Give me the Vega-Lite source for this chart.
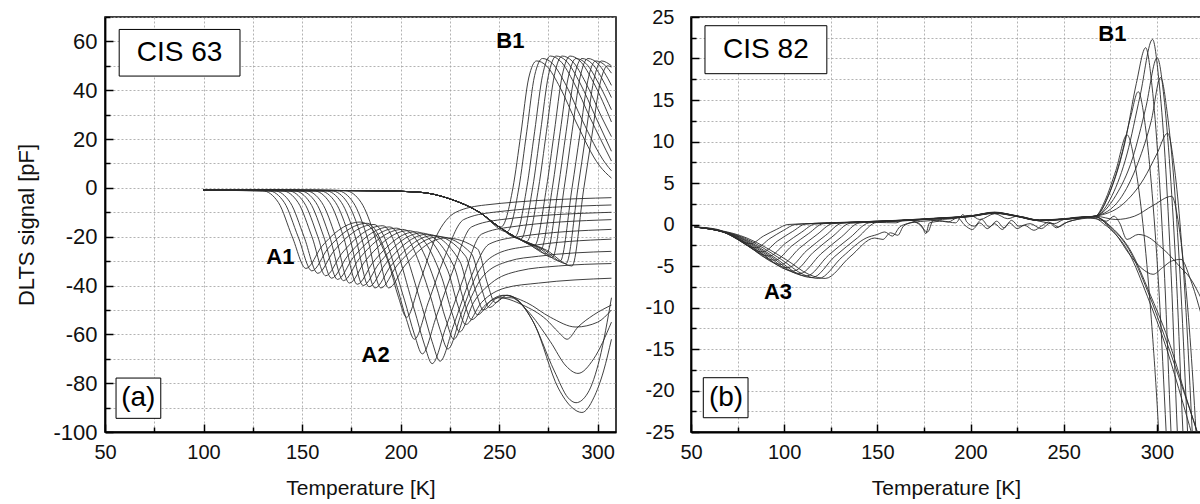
{
"$schema":"https://vega.github.io/schema/vega-lite/v6.json",
"background":"white",
"padding":{"left":15,"top":5,"right":0,"bottom":0},
"bounds":"flush",
"spacing":75,
"config":{
 "font":"Liberation Sans",
 "view":{"stroke":"black","strokeWidth":1.5},
 "axis":{"domainColor":"black","domainWidth":1.8,"tickColor":"black","tickWidth":1.5,"gridColor":"#a0a0a0","gridDash":[2,2],"gridWidth":0.8,"labelColor":"#111","titleColor":"#111","titleFontWeight":"normal","labelFont":"Liberation Sans","titleFont":"Liberation Sans","labelOverlap":false,"labelFlush":false,"labelBound":false}
},
"datasets":{
"L":[
{"c":"a0","t":100,"v":-1},{"c":"a0","t":130,"v":-1.2},{"c":"a0","t":138,"v":-6},{"c":"a0","t":145,"v":-20},{"c":"a0","t":152,"v":-33},{"c":"a0","t":160,"v":-24},{"c":"a0","t":179.5,"v":-14},{"c":"a0","t":194,"v":-31},{"c":"a0","t":199,"v":-45},{"c":"a0","t":203,"v":-53},{"c":"a0","t":210,"v":-38},{"c":"a0","t":218,"v":-20},{"c":"a0","t":228,"v":-10},{"c":"a0","t":243,"v":-7},{"c":"a0","t":307,"v":-4},
{"c":"a1","t":100,"v":-1},{"c":"a1","t":133,"v":-1.2},{"c":"a1","t":141,"v":-6},{"c":"a1","t":148,"v":-20},{"c":"a1","t":155,"v":-34},{"c":"a1","t":163,"v":-25},{"c":"a1","t":183,"v":-14.5},{"c":"a1","t":198,"v":-40},{"c":"a1","t":203,"v":-54},{"c":"a1","t":207,"v":-62},{"c":"a1","t":214,"v":-47},{"c":"a1","t":222,"v":-29},{"c":"a1","t":232,"v":-13},{"c":"a1","t":247,"v":-10},{"c":"a1","t":307,"v":-7},
{"c":"a2","t":100,"v":-1},{"c":"a2","t":136,"v":-1.2},{"c":"a2","t":144,"v":-6},{"c":"a2","t":151,"v":-20},{"c":"a2","t":158,"v":-35},{"c":"a2","t":166,"v":-26},{"c":"a2","t":186.5,"v":-15},{"c":"a2","t":202,"v":-46},{"c":"a2","t":207,"v":-60},{"c":"a2","t":211,"v":-68},{"c":"a2","t":218,"v":-53},{"c":"a2","t":226,"v":-35},{"c":"a2","t":236,"v":-16},{"c":"a2","t":251,"v":-13},{"c":"a2","t":307,"v":-10},
{"c":"a3","t":100,"v":-1},{"c":"a3","t":140,"v":-1.2},{"c":"a3","t":148,"v":-6},{"c":"a3","t":155,"v":-20},{"c":"a3","t":162,"v":-36},{"c":"a3","t":170,"v":-27},{"c":"a3","t":191,"v":-15.5},{"c":"a3","t":207,"v":-50},{"c":"a3","t":212,"v":-64},{"c":"a3","t":216,"v":-72},{"c":"a3","t":223,"v":-57},{"c":"a3","t":231,"v":-39},{"c":"a3","t":241,"v":-19},{"c":"a3","t":256,"v":-16},{"c":"a3","t":307,"v":-13},
{"c":"a4","t":100,"v":-1},{"c":"a4","t":143,"v":-1.2},{"c":"a4","t":151,"v":-6},{"c":"a4","t":158,"v":-20},{"c":"a4","t":165,"v":-37},{"c":"a4","t":173,"v":-28},{"c":"a4","t":194.5,"v":-16},{"c":"a4","t":211,"v":-49},{"c":"a4","t":216,"v":-63},{"c":"a4","t":220,"v":-71},{"c":"a4","t":227,"v":-56},{"c":"a4","t":235,"v":-38},{"c":"a4","t":245,"v":-23},{"c":"a4","t":260,"v":-20},{"c":"a4","t":307,"v":-17},
{"c":"a5","t":100,"v":-1},{"c":"a5","t":146,"v":-1.2},{"c":"a5","t":154,"v":-6},{"c":"a5","t":161,"v":-20},{"c":"a5","t":168,"v":-37.5},{"c":"a5","t":176,"v":-28.5},{"c":"a5","t":198,"v":-16.5},{"c":"a5","t":215,"v":-44},{"c":"a5","t":220,"v":-58},{"c":"a5","t":224,"v":-66},{"c":"a5","t":231,"v":-51},{"c":"a5","t":239,"v":-35},{"c":"a5","t":249,"v":-27},{"c":"a5","t":264,"v":-24},{"c":"a5","t":307,"v":-21},
{"c":"a6","t":100,"v":-1},{"c":"a6","t":149,"v":-1.2},{"c":"a6","t":157,"v":-6},{"c":"a6","t":164,"v":-20},{"c":"a6","t":171,"v":-38},{"c":"a6","t":179,"v":-29},{"c":"a6","t":201,"v":-17},{"c":"a6","t":218,"v":-40},{"c":"a6","t":223,"v":-54},{"c":"a6","t":227,"v":-62},{"c":"a6","t":234,"v":-48},{"c":"a6","t":242,"v":-36},{"c":"a6","t":255,"v":-30},{"c":"a6","t":270,"v":-28},{"c":"a6","t":307,"v":-26},
{"c":"a7","t":100,"v":-1},{"c":"a7","t":152,"v":-1.2},{"c":"a7","t":160,"v":-6},{"c":"a7","t":167,"v":-20},{"c":"a7","t":174,"v":-39},{"c":"a7","t":182,"v":-30},{"c":"a7","t":204,"v":-17.5},{"c":"a7","t":221,"v":-37},{"c":"a7","t":226,"v":-51},{"c":"a7","t":230,"v":-59},{"c":"a7","t":237,"v":-47},{"c":"a7","t":246,"v":-39},{"c":"a7","t":260,"v":-34},{"c":"a7","t":280,"v":-32},{"c":"a7","t":307,"v":-31},
{"c":"a8","t":100,"v":-1},{"c":"a8","t":156,"v":-1.2},{"c":"a8","t":164,"v":-6},{"c":"a8","t":171,"v":-20},{"c":"a8","t":178,"v":-39.5},{"c":"a8","t":186,"v":-30.5},{"c":"a8","t":207.5,"v":-18},{"c":"a8","t":224,"v":-34},{"c":"a8","t":229,"v":-48},{"c":"a8","t":233,"v":-56},{"c":"a8","t":241,"v":-47},{"c":"a8","t":253,"v":-41},{"c":"a8","t":270,"v":-39},{"c":"a8","t":307,"v":-37},
{"c":"a9","t":100,"v":-1},{"c":"a9","t":159,"v":-1.2},{"c":"a9","t":167,"v":-6},{"c":"a9","t":174,"v":-20},{"c":"a9","t":181,"v":-40},{"c":"a9","t":189,"v":-31},{"c":"a9","t":210.5,"v":-18.5},{"c":"a9","t":227,"v":-32},{"c":"a9","t":232,"v":-46},{"c":"a9","t":236,"v":-54},{"c":"a9","t":243,"v":-48},{"c":"a9","t":250,"v":-45},{"c":"a9","t":262,"v":-48},{"c":"a9","t":274,"v":-54},{"c":"a9","t":280,"v":-59},{"c":"a9","t":284.5,"v":-62},{"c":"a9","t":290,"v":-57},{"c":"a9","t":298,"v":-52},{"c":"a9","t":307,"v":-48},
{"c":"a10","t":100,"v":-1},{"c":"a10","t":162,"v":-1.2},{"c":"a10","t":170,"v":-6},{"c":"a10","t":177,"v":-20},{"c":"a10","t":184,"v":-40.5},{"c":"a10","t":192,"v":-31.5},{"c":"a10","t":213.5,"v":-19},{"c":"a10","t":230,"v":-30},{"c":"a10","t":235,"v":-44},{"c":"a10","t":239,"v":-52},{"c":"a10","t":246,"v":-46},{"c":"a10","t":252,"v":-44},{"c":"a10","t":264,"v":-47},{"c":"a10","t":276,"v":-53},{"c":"a10","t":289,"v":-57},{"c":"a10","t":300,"v":-55},{"c":"a10","t":307,"v":-50},
{"c":"a11","t":100,"v":-1},{"c":"a11","t":165,"v":-1.2},{"c":"a11","t":173,"v":-6},{"c":"a11","t":180,"v":-20},{"c":"a11","t":187,"v":-41},{"c":"a11","t":195,"v":-32},{"c":"a11","t":216.5,"v":-19.5},{"c":"a11","t":233,"v":-28},{"c":"a11","t":238,"v":-42},{"c":"a11","t":242,"v":-50},{"c":"a11","t":249,"v":-45},{"c":"a11","t":254,"v":-44},{"c":"a11","t":264,"v":-50},{"c":"a11","t":276,"v":-63},{"c":"a11","t":284,"v":-73},{"c":"a11","t":290,"v":-76},{"c":"a11","t":298,"v":-70},{"c":"a11","t":307,"v":-55},
{"c":"a12","t":100,"v":-1},{"c":"a12","t":168,"v":-1.2},{"c":"a12","t":176,"v":-6},{"c":"a12","t":183,"v":-20},{"c":"a12","t":190,"v":-41},{"c":"a12","t":198,"v":-32},{"c":"a12","t":219.5,"v":-20},{"c":"a12","t":236,"v":-27},{"c":"a12","t":241,"v":-41},{"c":"a12","t":245,"v":-49},{"c":"a12","t":252,"v":-45},{"c":"a12","t":256,"v":-45},{"c":"a12","t":266,"v":-53},{"c":"a12","t":278,"v":-75},{"c":"a12","t":285,"v":-86},{"c":"a12","t":289,"v":-88},{"c":"a12","t":295,"v":-84},{"c":"a12","t":301,"v":-70},{"c":"a12","t":307,"v":-45},
{"c":"a13","t":100,"v":-1},{"c":"a13","t":172,"v":-1.2},{"c":"a13","t":180,"v":-6},{"c":"a13","t":187,"v":-20},{"c":"a13","t":194,"v":-41},{"c":"a13","t":202,"v":-32},{"c":"a13","t":223,"v":-20.5},{"c":"a13","t":239,"v":-25},{"c":"a13","t":244,"v":-39},{"c":"a13","t":248,"v":-47},{"c":"a13","t":254,"v":-44},{"c":"a13","t":258,"v":-45},{"c":"a13","t":268,"v":-56},{"c":"a13","t":280,"v":-82},{"c":"a13","t":287,"v":-90},{"c":"a13","t":292,"v":-92},{"c":"a13","t":298,"v":-86},{"c":"a13","t":303,"v":-75},{"c":"a13","t":307,"v":-62},
{"c":"b0","t":100,"v":-0.8},{"c":"b0","t":150,"v":-1},{"c":"b0","t":190,"v":-1.2},{"c":"b0","t":210,"v":-1.8},{"c":"b0","t":225,"v":-4.5},{"c":"b0","t":240,"v":-10},{"c":"b0","t":251,"v":-16},{"c":"b0","t":257,"v":0},{"c":"b0","t":261,"v":22},{"c":"b0","t":265,"v":45},{"c":"b0","t":269,"v":52},{"c":"b0","t":274,"v":50},{"c":"b0","t":281,"v":41},{"c":"b0","t":289,"v":27},{"c":"b0","t":301,"v":9},{"c":"b0","t":307,"v":4},
{"c":"b1","t":100,"v":-0.8},{"c":"b1","t":150,"v":-1},{"c":"b1","t":190,"v":-1.2},{"c":"b1","t":210,"v":-1.8},{"c":"b1","t":225,"v":-4.5},{"c":"b1","t":240,"v":-10},{"c":"b1","t":254,"v":-18},{"c":"b1","t":260,"v":0},{"c":"b1","t":264,"v":23},{"c":"b1","t":268,"v":46},{"c":"b1","t":272,"v":53},{"c":"b1","t":277,"v":51},{"c":"b1","t":284,"v":42},{"c":"b1","t":292,"v":28},{"c":"b1","t":304,"v":10},{"c":"b1","t":307,"v":7},
{"c":"b2","t":100,"v":-0.8},{"c":"b2","t":150,"v":-1},{"c":"b2","t":190,"v":-1.2},{"c":"b2","t":210,"v":-1.8},{"c":"b2","t":225,"v":-4.5},{"c":"b2","t":240,"v":-10},{"c":"b2","t":250,"v":-16},{"c":"b2","t":258,"v":-20},{"c":"b2","t":264,"v":0},{"c":"b2","t":268,"v":23},{"c":"b2","t":272,"v":46},{"c":"b2","t":276,"v":54},{"c":"b2","t":281,"v":52},{"c":"b2","t":288,"v":43},{"c":"b2","t":296,"v":29},{"c":"b2","t":307,"v":11},
{"c":"b3","t":100,"v":-0.8},{"c":"b3","t":150,"v":-1},{"c":"b3","t":190,"v":-1.2},{"c":"b3","t":210,"v":-1.8},{"c":"b3","t":225,"v":-4.5},{"c":"b3","t":240,"v":-10},{"c":"b3","t":250,"v":-16},{"c":"b3","t":261,"v":-21},{"c":"b3","t":267,"v":0},{"c":"b3","t":271,"v":23},{"c":"b3","t":275,"v":46},{"c":"b3","t":279,"v":54},{"c":"b3","t":284,"v":52},{"c":"b3","t":291,"v":43},{"c":"b3","t":299,"v":29},{"c":"b3","t":307,"v":15},
{"c":"b4","t":100,"v":-0.8},{"c":"b4","t":150,"v":-1},{"c":"b4","t":190,"v":-1.2},{"c":"b4","t":210,"v":-1.8},{"c":"b4","t":225,"v":-4.5},{"c":"b4","t":240,"v":-10},{"c":"b4","t":250,"v":-16},{"c":"b4","t":258,"v":-20},{"c":"b4","t":264,"v":-22},{"c":"b4","t":270,"v":0},{"c":"b4","t":274,"v":23},{"c":"b4","t":278,"v":46},{"c":"b4","t":282,"v":54},{"c":"b4","t":287,"v":52},{"c":"b4","t":294,"v":43},{"c":"b4","t":302,"v":29},{"c":"b4","t":307,"v":21},
{"c":"b5","t":100,"v":-0.8},{"c":"b5","t":150,"v":-1},{"c":"b5","t":190,"v":-1.2},{"c":"b5","t":210,"v":-1.8},{"c":"b5","t":225,"v":-4.5},{"c":"b5","t":240,"v":-10},{"c":"b5","t":250,"v":-16},{"c":"b5","t":258,"v":-20},{"c":"b5","t":268,"v":-23.5},{"c":"b5","t":274,"v":0},{"c":"b5","t":278,"v":23},{"c":"b5","t":282,"v":46},{"c":"b5","t":286,"v":54},{"c":"b5","t":291,"v":52},{"c":"b5","t":298,"v":43},{"c":"b5","t":307,"v":27},
{"c":"b6","t":100,"v":-0.8},{"c":"b6","t":150,"v":-1},{"c":"b6","t":190,"v":-1.2},{"c":"b6","t":210,"v":-1.8},{"c":"b6","t":225,"v":-4.5},{"c":"b6","t":240,"v":-10},{"c":"b6","t":250,"v":-16},{"c":"b6","t":258,"v":-20},{"c":"b6","t":265,"v":-23},{"c":"b6","t":271,"v":-25.5},{"c":"b6","t":277,"v":0},{"c":"b6","t":281,"v":23},{"c":"b6","t":285,"v":45},{"c":"b6","t":289,"v":53},{"c":"b6","t":294,"v":51},{"c":"b6","t":301,"v":42},{"c":"b6","t":307,"v":32},
{"c":"b7","t":100,"v":-0.8},{"c":"b7","t":150,"v":-1},{"c":"b7","t":190,"v":-1.2},{"c":"b7","t":210,"v":-1.8},{"c":"b7","t":225,"v":-4.5},{"c":"b7","t":240,"v":-10},{"c":"b7","t":250,"v":-16},{"c":"b7","t":258,"v":-20},{"c":"b7","t":266,"v":-23.5},{"c":"b7","t":274,"v":-27},{"c":"b7","t":280,"v":0},{"c":"b7","t":284,"v":23},{"c":"b7","t":288,"v":45},{"c":"b7","t":292,"v":53},{"c":"b7","t":297,"v":51},{"c":"b7","t":304,"v":42},{"c":"b7","t":307,"v":37},
{"c":"b8","t":100,"v":-0.8},{"c":"b8","t":150,"v":-1},{"c":"b8","t":190,"v":-1.2},{"c":"b8","t":210,"v":-1.8},{"c":"b8","t":225,"v":-4.5},{"c":"b8","t":240,"v":-10},{"c":"b8","t":250,"v":-16},{"c":"b8","t":258,"v":-20},{"c":"b8","t":268,"v":-24},{"c":"b8","t":277,"v":-28.5},{"c":"b8","t":283,"v":0},{"c":"b8","t":287,"v":23},{"c":"b8","t":291,"v":45},{"c":"b8","t":295,"v":53},{"c":"b8","t":300,"v":51},{"c":"b8","t":307,"v":42},
{"c":"b9","t":100,"v":-0.8},{"c":"b9","t":150,"v":-1},{"c":"b9","t":190,"v":-1.2},{"c":"b9","t":210,"v":-1.8},{"c":"b9","t":225,"v":-4.5},{"c":"b9","t":240,"v":-10},{"c":"b9","t":250,"v":-16},{"c":"b9","t":258,"v":-20},{"c":"b9","t":270,"v":-24.5},{"c":"b9","t":281,"v":-30},{"c":"b9","t":287,"v":0},{"c":"b9","t":291,"v":22},{"c":"b9","t":295,"v":44},{"c":"b9","t":299,"v":52},{"c":"b9","t":304,"v":50},{"c":"b9","t":307,"v":47},
{"c":"b10","t":100,"v":-0.8},{"c":"b10","t":150,"v":-1},{"c":"b10","t":190,"v":-1.2},{"c":"b10","t":210,"v":-1.8},{"c":"b10","t":225,"v":-4.5},{"c":"b10","t":240,"v":-10},{"c":"b10","t":250,"v":-16},{"c":"b10","t":258,"v":-20},{"c":"b10","t":272,"v":-25},{"c":"b10","t":284,"v":-31},{"c":"b10","t":290,"v":0},{"c":"b10","t":294,"v":22},{"c":"b10","t":298,"v":44},{"c":"b10","t":302,"v":52},{"c":"b10","t":307,"v":50},
{"c":"b11","t":100,"v":-0.8},{"c":"b11","t":150,"v":-1},{"c":"b11","t":190,"v":-1.2},{"c":"b11","t":210,"v":-1.8},{"c":"b11","t":225,"v":-4.5},{"c":"b11","t":240,"v":-10},{"c":"b11","t":250,"v":-16},{"c":"b11","t":258,"v":-20},{"c":"b11","t":274,"v":-25.5},{"c":"b11","t":287,"v":-32},{"c":"b11","t":293,"v":0},{"c":"b11","t":297,"v":21},{"c":"b11","t":301,"v":42},{"c":"b11","t":305,"v":50},{"c":"b11","t":307,"v":49.5}
],
"R":[
{"c":"j0","t":52,"v":-0.3},{"c":"j0","t":64,"v":-0.58},{"c":"j0","t":73,"v":-1.5},{"c":"j0","t":78.4,"v":-2.14},{"c":"j0","t":82,"v":-2.3},{"c":"j0","t":89,"v":-1.38},{"c":"j0","t":96,"v":-0.58},{"c":"j0","t":102,"v":0},{"c":"j0","t":120,"v":0.15},{"c":"j0","t":150,"v":0.35},{"c":"j0","t":165,"v":0.5},{"c":"j0","t":180,"v":0.7},{"c":"j0","t":200,"v":1},{"c":"j0","t":213,"v":1.4},{"c":"j0","t":225,"v":1},{"c":"j0","t":237,"v":0.5},{"c":"j0","t":250,"v":0.65},{"c":"j0","t":262,"v":0.9},{"c":"j0","t":267,"v":0.9},{"c":"j0","t":275,"v":-0.3},{"c":"j0","t":285,"v":-3},{"c":"j0","t":295,"v":-8},{"c":"j0","t":305,"v":-14},{"c":"j0","t":315,"v":-20.5},{"c":"j0","t":324,"v":-26.5},
{"c":"j1","t":52,"v":-0.3},{"c":"j1","t":65.2,"v":-0.7},{"c":"j1","t":75.1,"v":-1.82},{"c":"j1","t":81,"v":-2.6},{"c":"j1","t":85,"v":-2.8},{"c":"j1","t":92.4,"v":-1.68},{"c":"j1","t":99.7,"v":-0.7},{"c":"j1","t":106,"v":0},{"c":"j1","t":125,"v":0.2},{"c":"j1","t":150,"v":0.4},{"c":"j1","t":165,"v":0.55},{"c":"j1","t":180,"v":0.75},{"c":"j1","t":200,"v":1.05},{"c":"j1","t":213,"v":1.45},{"c":"j1","t":225,"v":1.05},{"c":"j1","t":237,"v":0.55},{"c":"j1","t":250,"v":0.7},{"c":"j1","t":262,"v":0.95},{"c":"j1","t":267,"v":0.95},{"c":"j1","t":275,"v":-0.5},{"c":"j1","t":285,"v":-3.4},{"c":"j1","t":295,"v":-8.7},{"c":"j1","t":305,"v":-14.8},{"c":"j1","t":314,"v":-21.5},{"c":"j1","t":321,"v":-27},
{"c":"j2","t":52,"v":-0.3},{"c":"j2","t":66.6,"v":-0.83},{"c":"j2","t":77.6,"v":-2.15},{"c":"j2","t":84.1,"v":-3.07},{"c":"j2","t":88.5,"v":-3.3},{"c":"j2","t":96.5,"v":-1.98},{"c":"j2","t":104.6,"v":-0.83},{"c":"j2","t":111.5,"v":0.05},{"c":"j2","t":130,"v":0.25},{"c":"j2","t":150,"v":0.3},{"c":"j2","t":165,"v":0.45},{"c":"j2","t":180,"v":0.65},{"c":"j2","t":200,"v":0.95},{"c":"j2","t":213,"v":1.35},{"c":"j2","t":225,"v":0.95},{"c":"j2","t":237,"v":0.45},{"c":"j2","t":250,"v":0.6},{"c":"j2","t":262,"v":0.85},{"c":"j2","t":267,"v":0.9},{"c":"j2","t":276,"v":-0.4},{"c":"j2","t":286,"v":-3.2},{"c":"j2","t":296,"v":-8.2},{"c":"j2","t":306,"v":-13.8},{"c":"j2","t":316,"v":-21},{"c":"j2","t":323,"v":-26},
{"c":"j3","t":52,"v":-0.3},{"c":"j3","t":68,"v":-0.95},{"c":"j3","t":80,"v":-2.47},{"c":"j3","t":87.2,"v":-3.53},{"c":"j3","t":92,"v":-3.8},{"c":"j3","t":100.6,"v":-2.28},{"c":"j3","t":109.2,"v":-0.95},{"c":"j3","t":116.5,"v":0.05},{"c":"j3","t":135,"v":0.25},{"c":"j3","t":150,"v":0.4},{"c":"j3","t":165,"v":0.5},{"c":"j3","t":180,"v":0.72},{"c":"j3","t":200,"v":1.02},{"c":"j3","t":213,"v":1.5},{"c":"j3","t":225,"v":1},{"c":"j3","t":237,"v":0.5},{"c":"j3","t":250,"v":0.66},{"c":"j3","t":262,"v":0.92},{"c":"j3","t":267,"v":1},{"c":"j3","t":272,"v":2.8},{"c":"j3","t":278,"v":6.5},{"c":"j3","t":284,"v":10.8},{"c":"j3","t":288.3,"v":7.2},{"c":"j3","t":292.5,"v":0.1},{"c":"j3","t":296.8,"v":-10.7},{"c":"j3","t":301,"v":-25},{"c":"j3","t":303,"v":-34},
{"c":"j4","t":52,"v":-0.3},{"c":"j4","t":69.2,"v":-1.08},{"c":"j4","t":82.1,"v":-2.8},{"c":"j4","t":89.8,"v":-4},{"c":"j4","t":95,"v":-4.3},{"c":"j4","t":104.1,"v":-2.58},{"c":"j4","t":113.2,"v":-1.08},{"c":"j4","t":121,"v":0.1},{"c":"j4","t":140,"v":0.3},{"c":"j4","t":165,"v":0.52},{"c":"j4","t":180,"v":0.68},{"c":"j4","t":200,"v":0.98},{"c":"j4","t":213,"v":1.42},{"c":"j4","t":225,"v":1.02},{"c":"j4","t":237,"v":0.52},{"c":"j4","t":250,"v":0.64},{"c":"j4","t":262,"v":0.9},{"c":"j4","t":267,"v":1},{"c":"j4","t":274,"v":3.5},{"c":"j4","t":280,"v":7.5},{"c":"j4","t":286,"v":13},{"c":"j4","t":290,"v":16},{"c":"j4","t":293.8,"v":11.9},{"c":"j4","t":297.5,"v":3.7},{"c":"j4","t":301.3,"v":-8.6},{"c":"j4","t":305,"v":-25},{"c":"j4","t":307,"v":-34},
{"c":"j5","t":52,"v":-0.3},{"c":"j5","t":70.6,"v":-1.2},{"c":"j5","t":84.6,"v":-3.12},{"c":"j5","t":92.9,"v":-4.46},{"c":"j5","t":98.5,"v":-4.8},{"c":"j5","t":108.1,"v":-2.88},{"c":"j5","t":117.7,"v":-1.2},{"c":"j5","t":126,"v":0.1},{"c":"j5","t":145,"v":0.35},{"c":"j5","t":165,"v":0.5},{"c":"j5","t":180,"v":0.7},{"c":"j5","t":200,"v":1},{"c":"j5","t":213,"v":1.38},{"c":"j5","t":225,"v":0.98},{"c":"j5","t":237,"v":0.48},{"c":"j5","t":250,"v":0.62},{"c":"j5","t":262,"v":0.88},{"c":"j5","t":267,"v":1},{"c":"j5","t":275,"v":4},{"c":"j5","t":283,"v":10},{"c":"j5","t":289,"v":17},{"c":"j5","t":294,"v":21.3},{"c":"j5","t":297.4,"v":16.7},{"c":"j5","t":300.8,"v":7.4},{"c":"j5","t":304.2,"v":-6.5},{"c":"j5","t":307.6,"v":-25},{"c":"j5","t":309.5,"v":-34},
{"c":"j6","t":52,"v":-0.3},{"c":"j6","t":72,"v":-1.3},{"c":"j6","t":87,"v":-3.38},{"c":"j6","t":96,"v":-4.84},{"c":"j6","t":102,"v":-5.2},{"c":"j6","t":112.2,"v":-3.12},{"c":"j6","t":122.3,"v":-1.3},{"c":"j6","t":131,"v":0.15},{"c":"j6","t":150,"v":0.35},{"c":"j6","t":165,"v":0.55},{"c":"j6","t":180,"v":0.72},{"c":"j6","t":200,"v":1.03},{"c":"j6","t":213,"v":1.45},{"c":"j6","t":225,"v":1.03},{"c":"j6","t":237,"v":0.53},{"c":"j6","t":250,"v":0.67},{"c":"j6","t":262,"v":0.92},{"c":"j6","t":267,"v":1},{"c":"j6","t":276,"v":3.5},{"c":"j6","t":284,"v":8.5},{"c":"j6","t":291,"v":15.5},{"c":"j6","t":297.7,"v":22.3},{"c":"j6","t":301,"v":17.6},{"c":"j6","t":304.4,"v":8.1},{"c":"j6","t":307.7,"v":-6.1},{"c":"j6","t":311,"v":-25},{"c":"j6","t":313,"v":-34},
{"c":"j7","t":52,"v":-0.3},{"c":"j7","t":73.2,"v":-1.4},{"c":"j7","t":89.1,"v":-3.64},{"c":"j7","t":98.6,"v":-5.2},{"c":"j7","t":105,"v":-5.6},{"c":"j7","t":115.6,"v":-3.36},{"c":"j7","t":126.2,"v":-1.4},{"c":"j7","t":135.4,"v":0.15},{"c":"j7","t":150,"v":0.3},{"c":"j7","t":165,"v":0.48},{"c":"j7","t":180,"v":0.7},{"c":"j7","t":200,"v":1},{"c":"j7","t":213,"v":1.4},{"c":"j7","t":225,"v":1},{"c":"j7","t":237,"v":0.5},{"c":"j7","t":250,"v":0.65},{"c":"j7","t":262,"v":0.9},{"c":"j7","t":267,"v":1},{"c":"j7","t":278,"v":3.5},{"c":"j7","t":287,"v":8},{"c":"j7","t":294,"v":14},{"c":"j7","t":300.2,"v":20.1},{"c":"j7","t":303.7,"v":15.6},{"c":"j7","t":307.1,"v":6.6},{"c":"j7","t":310.6,"v":-6.9},{"c":"j7","t":314,"v":-25},{"c":"j7","t":316,"v":-34},
{"c":"j8","t":52,"v":-0.3},{"c":"j8","t":74.6,"v":-1.48},{"c":"j8","t":91.6,"v":-3.84},{"c":"j8","t":101.7,"v":-5.49},{"c":"j8","t":108.5,"v":-5.9},{"c":"j8","t":119.7,"v":-3.54},{"c":"j8","t":130.8,"v":-1.48},{"c":"j8","t":140.4,"v":0.2},{"c":"j8","t":155,"v":0.4},{"c":"j8","t":165,"v":0.5},{"c":"j8","t":180,"v":0.66},{"c":"j8","t":200,"v":0.97},{"c":"j8","t":213,"v":1.35},{"c":"j8","t":225,"v":0.97},{"c":"j8","t":237,"v":0.47},{"c":"j8","t":250,"v":0.63},{"c":"j8","t":262,"v":0.87},{"c":"j8","t":267,"v":1},{"c":"j8","t":280,"v":3},{"c":"j8","t":290,"v":7.5},{"c":"j8","t":297,"v":12.5},{"c":"j8","t":302,"v":17.7},{"c":"j8","t":305.6,"v":13.4},{"c":"j8","t":309.3,"v":4.9},{"c":"j8","t":312.9,"v":-7.9},{"c":"j8","t":316.5,"v":-25},{"c":"j8","t":318.5,"v":-34},
{"c":"j9","t":52,"v":-0.3},{"c":"j9","t":76,"v":-1.55},{"c":"j9","t":94,"v":-4.03},{"c":"j9","t":104.8,"v":-5.77},{"c":"j9","t":112,"v":-6.2},{"c":"j9","t":123.7,"v":-3.72},{"c":"j9","t":135.5,"v":-1.55},{"c":"j9","t":145.5,"v":0.2},{"c":"j9","t":160,"v":0.45},{"c":"j9","t":172,"v":0.55},{"c":"j9","t":180,"v":0.72},{"c":"j9","t":200,"v":1.02},{"c":"j9","t":213,"v":1.43},{"c":"j9","t":225,"v":1},{"c":"j9","t":237,"v":0.5},{"c":"j9","t":250,"v":0.65},{"c":"j9","t":262,"v":0.9},{"c":"j9","t":267,"v":1},{"c":"j9","t":282,"v":2.5},{"c":"j9","t":293,"v":5.5},{"c":"j9","t":300,"v":8.5},{"c":"j9","t":305.8,"v":11},{"c":"j9","t":309.1,"v":7.4},{"c":"j9","t":312.4,"v":0.2},{"c":"j9","t":315.7,"v":-10.6},{"c":"j9","t":319,"v":-25},{"c":"j9","t":321,"v":-34},
{"c":"j10","t":52,"v":-0.3},{"c":"j10","t":77.2,"v":-1.6},{"c":"j10","t":96.1,"v":-4.16},{"c":"j10","t":107.4,"v":-5.95},{"c":"j10","t":115,"v":-6.4},{"c":"j10","t":127.2,"v":-3.84},{"c":"j10","t":139.4,"v":-1.6},{"c":"j10","t":149.9,"v":0.25},{"c":"j10","t":160,"v":0.2},{"c":"j10","t":165,"v":0.6},{"c":"j10","t":172,"v":0.1},{"c":"j10","t":177,"v":-0.9},{"c":"j10","t":180,"v":0.5},{"c":"j10","t":190,"v":0.7},{"c":"j10","t":200,"v":1.1},{"c":"j10","t":205,"v":0.6},{"c":"j10","t":213,"v":1.3},{"c":"j10","t":220,"v":0.7},{"c":"j10","t":225,"v":1},{"c":"j10","t":237,"v":0.4},{"c":"j10","t":245,"v":0.1},{"c":"j10","t":250,"v":0.6},{"c":"j10","t":262,"v":0.9},{"c":"j10","t":267,"v":1},{"c":"j10","t":278,"v":0.6},{"c":"j10","t":288,"v":1},{"c":"j10","t":298,"v":2.3},{"c":"j10","t":308,"v":3.4},{"c":"j10","t":311.3,"v":0.6},{"c":"j10","t":314.5,"v":-5.1},{"c":"j10","t":317.8,"v":-13.6},{"c":"j10","t":321,"v":-25},{"c":"j10","t":323,"v":-34},
{"c":"j11","t":52,"v":-0.3},{"c":"j11","t":78.6,"v":-1.63},{"c":"j11","t":98.6,"v":-4.23},{"c":"j11","t":110.5,"v":-6.05},{"c":"j11","t":118.5,"v":-6.5},{"c":"j11","t":131.2,"v":-3.9},{"c":"j11","t":144,"v":-1.63},{"c":"j11","t":150,"v":-1.2},{"c":"j11","t":154,"v":-0.9},{"c":"j11","t":158,"v":-1.4},{"c":"j11","t":162,"v":-0.3},{"c":"j11","t":166,"v":0.1},{"c":"j11","t":170,"v":0.3},{"c":"j11","t":174,"v":-0.2},{"c":"j11","t":176,"v":-1.1},{"c":"j11","t":178,"v":0.2},{"c":"j11","t":185,"v":0.4},{"c":"j11","t":192,"v":0.2},{"c":"j11","t":196,"v":1.2},{"c":"j11","t":198,"v":0.3},{"c":"j11","t":202,"v":-0.2},{"c":"j11","t":206,"v":0.6},{"c":"j11","t":210,"v":-0.3},{"c":"j11","t":214,"v":0.4},{"c":"j11","t":218,"v":-0.4},{"c":"j11","t":222,"v":0.5},{"c":"j11","t":226,"v":-0.2},{"c":"j11","t":232,"v":0.1},{"c":"j11","t":238,"v":-0.5},{"c":"j11","t":243,"v":0.2},{"c":"j11","t":247,"v":-0.3},{"c":"j11","t":252,"v":0.3},{"c":"j11","t":257,"v":0.6},{"c":"j11","t":262,"v":0.8},{"c":"j11","t":267,"v":0.7},{"c":"j11","t":273,"v":0.4},{"c":"j11","t":277,"v":1},{"c":"j11","t":280,"v":0.2},{"c":"j11","t":284,"v":-1.8},{"c":"j11","t":290,"v":-1.2},{"c":"j11","t":296,"v":-1.6},{"c":"j11","t":301,"v":-2.5},{"c":"j11","t":306,"v":-3.5},{"c":"j11","t":312,"v":-5},{"c":"j11","t":318,"v":-6.5},{"c":"j11","t":324,"v":-9},
{"c":"j12","t":52,"v":-0.3},{"c":"j12","t":80,"v":-1.63},{"c":"j12","t":101,"v":-4.23},{"c":"j12","t":113.6,"v":-6.05},{"c":"j12","t":122,"v":-6.5},{"c":"j12","t":135.3,"v":-3.9},{"c":"j12","t":148.6,"v":-1.63},{"c":"j12","t":153,"v":-1.8},{"c":"j12","t":157,"v":-1},{"c":"j12","t":161,"v":-1.3},{"c":"j12","t":164,"v":-0.2},{"c":"j12","t":168,"v":0.2},{"c":"j12","t":175,"v":0.4},{"c":"j12","t":182,"v":0.5},{"c":"j12","t":188,"v":0.3},{"c":"j12","t":193,"v":0.8},{"c":"j12","t":197,"v":-0.1},{"c":"j12","t":201,"v":-0.6},{"c":"j12","t":205,"v":0.2},{"c":"j12","t":209,"v":-0.5},{"c":"j12","t":213,"v":0.1},{"c":"j12","t":217,"v":-0.6},{"c":"j12","t":221,"v":0.2},{"c":"j12","t":225,"v":-0.5},{"c":"j12","t":229,"v":-0.1},{"c":"j12","t":234,"v":-0.7},{"c":"j12","t":238,"v":-0.2},{"c":"j12","t":242,"v":0.3},{"c":"j12","t":246,"v":-0.4},{"c":"j12","t":250,"v":0.1},{"c":"j12","t":255,"v":0.5},{"c":"j12","t":260,"v":0.7},{"c":"j12","t":266,"v":0.8},{"c":"j12","t":272,"v":0},{"c":"j12","t":278,"v":-1.2},{"c":"j12","t":285,"v":-3.5},{"c":"j12","t":292,"v":-5.3},{"c":"j12","t":298,"v":-6},{"c":"j12","t":303,"v":-5.2},{"c":"j12","t":308,"v":-4.4},{"c":"j12","t":313,"v":-4.2},{"c":"j12","t":318,"v":-6.6},{"c":"j12","t":324,"v":-11}
],
"LB":[{"t":57.2,"t2":118.5,"v":45.8,"v2":64.9},{"t":55.6,"t2":78.3,"v":-94.4,"v2":-77.9}],
"RB":[{"t":57.5,"t2":122.9,"v":18.17,"v2":23.95},{"t":56.6,"t2":80.6,"v":-23.28,"v2":-18.46}],
"LT":[{"t":87.8,"v":55.3,"s":"CIS 63"},{"t":66.9,"v":-86.1,"s":"(a)"}],
"LL":[{"t":255.7,"v":60.1,"s":"B1"},{"t":139,"v":-28.3,"s":"A1"},{"t":187.3,"v":-68.6,"s":"A2"}],
"RT":[{"t":90.2,"v":21.06,"s":"CIS 82"},{"t":68.8,"v":-20.9,"s":"(b)"}],
"RL":[{"t":276.1,"v":23,"s":"B1"},{"t":96.7,"v":-8.16,"s":"A3"}]
},
"hconcat":[
{"width":511,"height":415,
 "encoding":{
  "x":{"field":"t","type":"quantitative","scale":{"domain":[50,309.3],"nice":false,"zero":false},
    "axis":{"title":"Temperature [K]","values":[50,75,100,125,150,175,200,225,250,275,300],"labelExpr":"datum.value % 50 == 0 ? '' + datum.value : ''","tickSize":{"condition":{"test":"datum.value % 50 == 0","value":-8},"value":-5},"labelPadding":18,"titlePadding":12,"labelFontSize":20,"titleFontSize":21,"grid":true}},
  "y":{"field":"v","type":"quantitative","scale":{"domain":[-100,70],"nice":false,"zero":false},
    "axis":{"title":"DLTS signal [pF]","values":[-100,-90,-80,-70,-60,-50,-40,-30,-20,-10,0,10,20,30,40,50,60,70],"labelExpr":"datum.value % 20 == 0 ? '' + datum.value : ''","tickSize":{"condition":{"test":"datum.value % 20 == 0","value":-8},"value":-5},"labelPadding":16,"titlePadding":14,"labelFontSize":22,"titleFontSize":22,"grid":true}}
 },
 "layer":[
  {"data":{"name":"L"},
   "mark":{"type":"line","interpolate":"monotone","strokeWidth":0.9,"color":"#2b2b2b","clip":true},
   "encoding":{"detail":{"field":"c","type":"nominal"},"order":{"field":"t","type":"quantitative"}}},
  {"data":{"name":"LB"},
   "mark":{"type":"rect","fill":"white","stroke":"black","strokeWidth":1},
   "encoding":{"x2":{"field":"t2"},"y2":{"field":"v2"}}},
  {"data":{"name":"LT"},
   "mark":{"type":"text","font":"Liberation Sans","fontSize":28,"color":"black","baseline":"middle","align":"center"},
   "encoding":{"text":{"field":"s"}}},
  {"data":{"name":"LL"},
   "mark":{"type":"text","font":"Liberation Sans","fontSize":22,"fontWeight":"bold","color":"black","baseline":"middle","align":"center"},
   "encoding":{"text":{"field":"s"}}}
 ]},
{"width":510,"height":415,
 "encoding":{
  "x":{"field":"t","type":"quantitative","scale":{"domain":[50,323.7],"nice":false,"zero":false},
    "axis":{"title":"Temperature [K]","values":[50,75,100,125,150,175,200,225,250,275,300],"labelExpr":"datum.value % 50 == 0 ? '' + datum.value : ''","tickSize":{"condition":{"test":"datum.value % 50 == 0","value":-8},"value":-5},"labelPadding":18,"titlePadding":12,"labelFontSize":20,"titleFontSize":21,"grid":true}},
  "y":{"field":"v","type":"quantitative","scale":{"domain":[-25,25],"nice":false,"zero":false},
    "axis":{"title":null,"values":[-25,-22.5,-20,-17.5,-15,-12.5,-10,-7.5,-5,-2.5,0,2.5,5,7.5,10,12.5,15,17.5,20,22.5,25],"labelExpr":"datum.value % 5 == 0 ? '' + datum.value : ''","tickSize":{"condition":{"test":"datum.value % 5 == 0","value":-8},"value":-5},"labelPadding":25,"labelFontSize":20,"grid":true}}
 },
 "layer":[
  {"data":{"name":"R"},
   "mark":{"type":"line","interpolate":"monotone","strokeWidth":0.9,"color":"#2b2b2b","clip":true},
   "encoding":{"detail":{"field":"c","type":"nominal"},"order":{"field":"t","type":"quantitative"}}},
  {"data":{"name":"RB"},
   "mark":{"type":"rect","fill":"white","stroke":"black","strokeWidth":1},
   "encoding":{"x2":{"field":"t2"},"y2":{"field":"v2"}}},
  {"data":{"name":"RT"},
   "mark":{"type":"text","font":"Liberation Sans","fontSize":28,"color":"black","baseline":"middle","align":"center"},
   "encoding":{"text":{"field":"s"}}},
  {"data":{"name":"RL"},
   "mark":{"type":"text","font":"Liberation Sans","fontSize":22,"fontWeight":"bold","color":"black","baseline":"middle","align":"center"},
   "encoding":{"text":{"field":"s"}}}
 ]}
]
}
